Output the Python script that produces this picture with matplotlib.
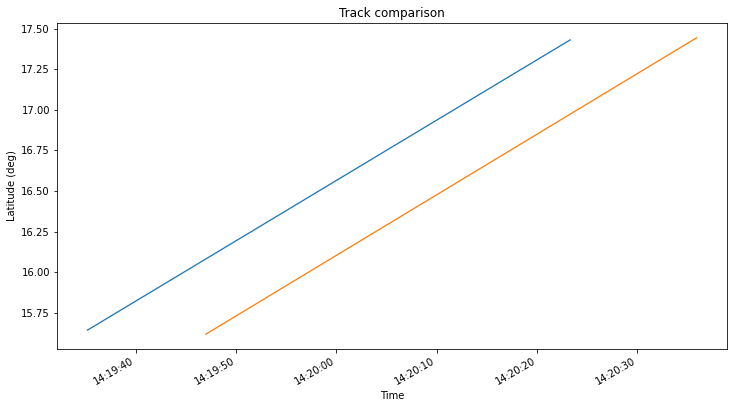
import matplotlib
matplotlib.use("Agg")
import matplotlib.pyplot as plt
import matplotlib.dates as mdates
import pandas as pd

# Track 1 (blue)
track1_time = ["2020-01-01 14:19:35.2", "2020-01-01 14:20:23.3"]
track1_lat = [15.642, 17.432]
# Track 2 (orange)
track2_time = ["2020-01-01 14:19:47.0", "2020-01-01 14:20:35.9"]
track2_lat = [15.617, 17.445]

t1 = pd.to_datetime(track1_time)
t2 = pd.to_datetime(track2_time)

DPI = 72
fig = plt.figure(figsize=(733 / DPI, 408 / DPI), dpi=DPI)
ax = fig.add_axes([57 / 733, 1 - 349 / 408, (727 - 57) / 733, (349 - 23) / 408])
ax.plot(t1, track1_lat, color="#1f77b4", lw=1.3)
ax.plot(t2, track2_lat, color="#ff7f0e", lw=1.3)
ax.xaxis.set_major_locator(mdates.SecondLocator(bysecond=[0, 10, 20, 30, 40, 50]))
ax.xaxis.set_major_formatter(mdates.DateFormatter("%H:%M:%S"))
for lbl in ax.get_xticklabels():
    lbl.set_rotation(30)
    lbl.set_ha("right")
ax.set_title("Track comparison")
ax.set_xlabel("Time")
ax.set_ylabel("Latitude (deg)")
fig.savefig("out.png", dpi=DPI)
